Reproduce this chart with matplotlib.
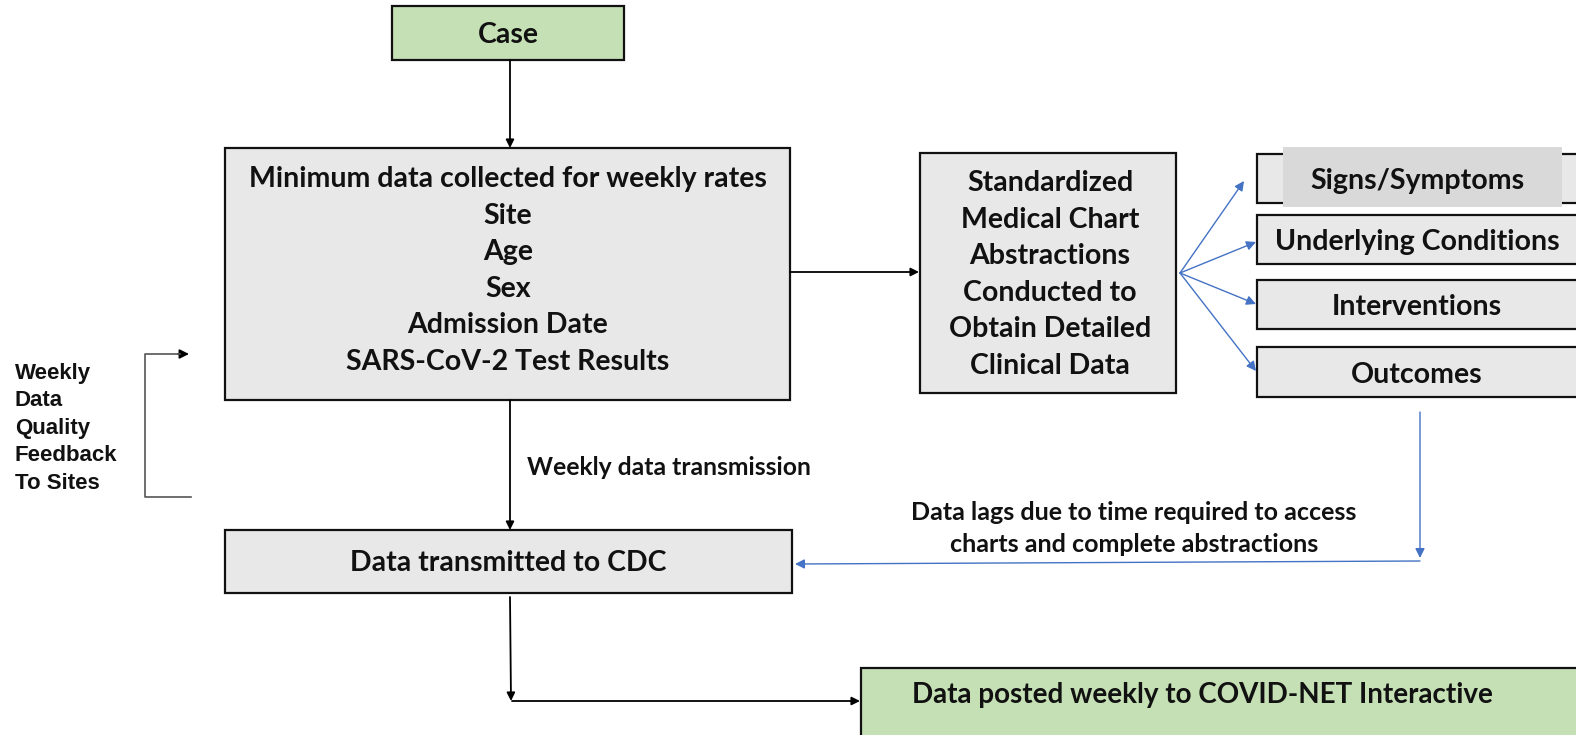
import matplotlib.pyplot as plt
from matplotlib.patches import Rectangle, FancyArrowPatch

# text content of the flow chart
case_label = "Case"
minimum_lines = ["Minimum data collected for weekly rates", "Site", "Age", "Sex",
                 "Admission Date", "SARS-CoV-2 Test Results"]
abstraction_lines = ["Standardized", "Medical Chart", "Abstractions", "Conducted to",
                     "Obtain Detailed", "Clinical Data"]
detail_labels = ["Signs/Symptoms", "Underlying Conditions", "Interventions", "Outcomes"]
cdc_label = "Data transmitted to CDC"
posted_label = "Data posted weekly to COVID-NET Interactive"
transmission_label = "Weekly data transmission"
lag_lines = ["Data lags due to time required to access", "charts and complete abstractions"]
feedback_lines = ["Weekly", "Data", "Quality", "Feedback", "To Sites"]

GREEN = "#c5e0b4"
GRAY = "#e8e8e8"
DARK = "#d9d9d9"
BLUE = "#4472c4"
FONT = "Lato"

fig = plt.figure(figsize=(15.76, 7.35), dpi=100)
ax = fig.add_axes([0, 0, 1, 1])
ax.set_xlim(0, 1576)
ax.set_ylim(735, 0)
ax.axis("off")


def box(x0, y0, x1, y1, fc, lw=1.6):
    ax.add_patch(Rectangle((x0, y0), x1 - x0, y1 - y0, fc=fc, ec="#111111", lw=lw))


def txt(x, y, s, size=20.5, ha="center", family=FONT):
    # small downward nudge so glyphs sit like the original
    ax.text(x, y + 2, s, ha=ha, va="center", fontsize=size, fontweight="bold",
            family=family, color="#111111")


def arrow(p0, p1, color="black", lw=1.3, head=12):
    ax.add_patch(FancyArrowPatch(p0, p1, arrowstyle="-|>", mutation_scale=head,
                                 color=color, lw=lw, shrinkA=0, shrinkB=0))


# boxes
box(392, 6, 624, 60, GREEN)
txt(508, 33, case_label)

box(225, 148, 790, 400, GRAY)
for i, s in enumerate(minimum_lines):
    txt(508, 177 + i * 36.6, s)

box(920, 153, 1176, 393, GRAY)
for i, s in enumerate(abstraction_lines):
    txt(1050, 181 + i * 36.6, s)

detail_rows = [(154, 203), (215, 264), (280, 329), (347, 397)]
for (y0, y1), s in zip(detail_rows, detail_labels):
    box(1257, y0, 1590, y1, GRAY)
box(1283, 147, 1562, 207, DARK, lw=0)
for (y0, y1), s in zip(detail_rows, detail_labels):
    txt(1417, (y0 + y1) / 2 + 0.5, s)

box(225, 530, 792, 593, GRAY)
txt(508, 561, cdc_label)

box(861, 668, 1590, 760, GREEN)
txt(1202, 693, posted_label, size=20)

# black arrows
arrow((510, 60), (510, 148))
arrow((790, 272), (919, 272))
arrow((510, 400), (510, 530))
arrow((510, 597), (511, 701))
arrow((512, 701), (860, 701))

# blue fan-out arrows
origin = (1180, 273)
for end in [(1244, 181), (1256, 242), (1256, 304), (1256, 371)]:
    arrow(origin, end, color=BLUE, lw=1.0, head=14)

# data lag loop
arrow((1420, 412), (1420, 558), color=BLUE, lw=1.0, head=14)
arrow((1420, 561), (795, 564), color=BLUE, lw=1.0, head=14)
for i, s in enumerate(lag_lines):
    txt(1134, 511 + i * 31, s, size=18)

txt(527, 465, transmission_label, size=17.8, ha="left")

# feedback bracket
ax.plot([191, 145, 145, 180], [497, 497, 354, 354], color="#555555", lw=1.2)
arrow((178, 354), (189, 354), lw=1.2, head=14)
for i, s in enumerate(feedback_lines):
    txt(15, 371 + i * 27.5, s, size=16, ha="left", family="Liberation Sans")

fig.savefig("out.png", dpi=100)
